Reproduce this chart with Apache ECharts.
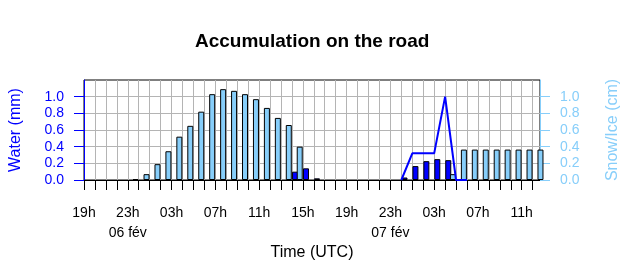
<!DOCTYPE html>
<html>
<head>
<meta charset="utf-8">
<script src="https://cdn.jsdelivr.net/npm/echarts@6/dist/echarts.min.js"></script>
<style>html,body{margin:0;padding:0;background:#fff}#c{width:640px;height:280px}</style>
</head>
<body>
<div id="c"></div>
<script>
// Hour index 0 = 19h on 05 fév; accumulation periods end at hour k
var periodEnd = [1,2,3,4,5,6,7,8,9,10,11,12,13,14,15,16,17,18,19,20,21,22,23,24,25,26,27,28,29,30,31,32,33,34,35,36,37,38,39,40,41,42];
var waterMm   = [0,0,0,0,0,0,0,0,0,0,0,0,0,0,0,0,0,0,0,0.10,0.14,0.02,0,0,0,0,0,0,0,0.03,0.167,0.226,0.25,0.238,0,0,0,0,0,0,0,0];
var snowIceCm = [0,0,0,0,0.01,0.07,0.19,0.345,0.52,0.65,0.82,1.03,1.09,1.07,1.03,0.97,0.865,0.745,0.66,0.40,0,0,0,0,0,0,0,0,0,0,0,0,0,0.07,0.365,0.365,0.365,0.365,0.365,0.365,0.365,0.365];
var lineHours = [29,30,31,32,33,34,35];
var lineValues = [0,0.32,0.32,0.32,1.0,0,0];
var xTickValues = [0,4,8,12,16,20,24,28,32,36,40];
var xTickLabels = ['19h','23h\n06 fév','03h','07h','11h','15h','19h','23h\n07 fév','03h','07h','11h'];
var yTickValues = [0,0.2,0.4,0.6,0.8,1.0];
var yTickLabels = ['0.0','0.2','0.4','0.6','0.8','1.0'];
var xMax = 41.67;

var FONT = '"Liberation Sans", Arial, sans-serif';
var hourTicks = [];
for (var h = 0; h <= 41; h++) hourTicks.push(h);

function periodPairs(vals){
  return periodEnd.map(function(k,i){ return [k-0.5, vals[i] === 0 ? null : vals[i]]; });
}
function yLab(v){ var i = yTickValues.indexOf(Math.round(v*10)/10); return i>=0 ? yTickLabels[i] : ''; }

var chart = echarts.init(document.getElementById('c'), null, {renderer:'canvas'});
chart.setOption({
  animation:false,
  backgroundColor:'#fff',
  title:{text:'Accumulation on the road', left:195, top:32, padding:0,
    textStyle:{fontFamily:FONT, fontSize:19, fontWeight:'bold', color:'#000'}},
  grid:{left:80, right:100, top:80, bottom:100, show:true, borderColor:'#000', borderWidth:1, backgroundColor:'transparent'},
  xAxis:{type:'value', min:0, max:xMax, interval:1,
    name:'Time (UTC)', nameLocation:'middle', nameGap:65,
    nameTextStyle:{fontFamily:FONT, fontSize:16, color:'#000'},
    axisLine:{show:true, lineStyle:{color:'#000', width:1}},
    axisTick:{show:true, length:10, inside:false, customValues:hourTicks, lineStyle:{color:'#000', width:1}},
    axisLabel:{customValues:xTickValues, margin:23, fontFamily:FONT, fontSize:14, lineHeight:20, color:'#000',
      formatter:function(v){ var i = xTickValues.indexOf(Math.round(v)); return i>=0 ? xTickLabels[i] : ''; }},
    splitLine:{show:true, lineStyle:{color:'#b4b4b4', width:1}}
  },
  yAxis:[
    {type:'value', min:0, max:1.2, interval:0.2, position:'left',
      name:'Water (mm)', nameLocation:'middle', nameGap:60, nameRotate:90,
      nameTextStyle:{fontFamily:FONT, fontSize:16, color:'#0000ff'},
      axisLine:{show:true, lineStyle:{color:'#0000ff', width:1}},
      axisTick:{show:true, length:10, customValues:yTickValues, lineStyle:{color:'#0000ff'}},
      axisLabel:{customValues:yTickValues, margin:20, fontFamily:FONT, fontSize:14, color:'#0000ff', formatter:yLab},
      splitLine:{show:true, lineStyle:{color:'#b4b4b4', width:1}}
    },
    {type:'value', min:0, max:1.2, interval:0.2, position:'right',
      name:'Snow/Ice (cm)', nameLocation:'middle', nameGap:65, nameRotate:90,
      nameTextStyle:{fontFamily:FONT, fontSize:16, color:'#87cefa'},
      axisLine:{show:true, lineStyle:{color:'#87cefa', width:1}},
      axisTick:{show:true, length:10, customValues:yTickValues, lineStyle:{color:'#87cefa'}},
      axisLabel:{customValues:yTickValues, margin:20, fontFamily:FONT, fontSize:14, color:'#87cefa', formatter:yLab},
      splitLine:{show:false}
    }
  ],
  series:[
    {type:'bar', name:'Water', xAxisIndex:0, yAxisIndex:0, data:periodPairs(waterMm),
      barWidth:6, barGap:'-22%', itemStyle:{color:'#0000ff', borderColor:'#000', borderWidth:1}, z:3},
    {type:'bar', name:'Snow/Ice', xAxisIndex:0, yAxisIndex:1, data:periodPairs(snowIceCm),
      barWidth:6, barGap:'-22%', itemStyle:{color:'#87cefa', borderColor:'#000', borderWidth:1}, z:3},
    {type:'line', name:'Line', xAxisIndex:0, yAxisIndex:0,
      data:lineHours.map(function(h,i){return [h, lineValues[i]];}),
      showSymbol:false, symbol:'none', lineStyle:{color:'#0000ff', width:2}, itemStyle:{color:'#0000ff'}, z:5}
  ]
});
</script>
</body>
</html>
